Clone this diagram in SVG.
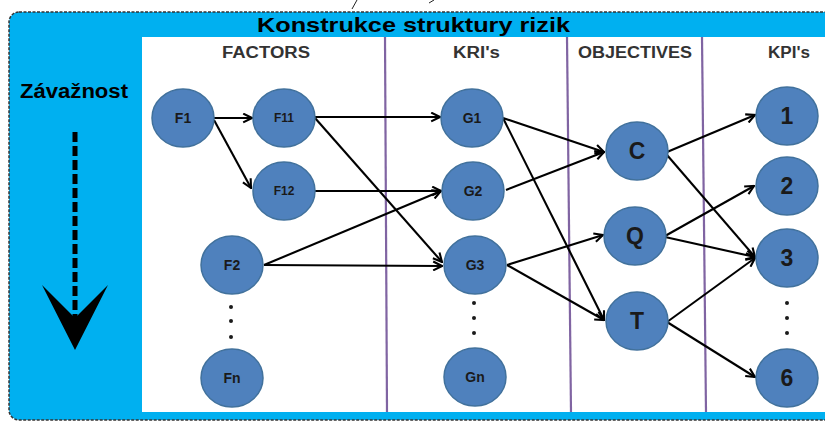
<svg xmlns="http://www.w3.org/2000/svg" width="825" height="422" viewBox="0 0 825 422">
  <defs>
    <marker id="arr" viewBox="0 0 10 10" refX="9" refY="5" markerWidth="11" markerHeight="11" markerUnits="userSpaceOnUse" orient="auto">
      <path d="M1,1 L9,5 L1,9" fill="none" stroke="#000" stroke-width="1.9"/>
    </marker>
    <style>
      .node ellipse { fill: #4F81BD; stroke: #41719C; stroke-width: 1.5; }
      .lbl { font-family: "Liberation Sans", Arial, sans-serif; font-weight: bold; fill: #1a1a1a; text-anchor: middle; }
      .sm { font-size: 14px; }
      .xs { font-size: 12px; }
      .lg { font-size: 23px; }
      .hdr { font-family: "Liberation Sans", Arial, sans-serif; font-weight: bold; font-size: 16px; fill: #333; }
      .sep { stroke: #8064A2; stroke-width: 2.2; }
      .edges line { stroke: #000; stroke-width: 2.1; marker-end: url(#arr); }
      .dot { fill: #1a1a1a; }
    </style>
  </defs>

  <rect width="825" height="422" fill="#ffffff"/>

  <!-- small strokes above the frame -->
  <line x1="352" y1="9" x2="357" y2="0" stroke="#222" stroke-width="1"/>
  <line x1="429" y1="3" x2="434" y2="0" stroke="#222" stroke-width="1"/>

  <!-- outer frame -->
  <rect x="9" y="12" width="840" height="408" rx="10" ry="10" fill="#00B0F0" stroke="#333" stroke-width="1.5" stroke-dasharray="3,1.5"/>

  <!-- title -->
  <text x="257" y="32" font-family="'Liberation Sans', Arial, sans-serif" font-weight="bold" font-size="21" fill="#000" textLength="313" lengthAdjust="spacingAndGlyphs">Konstrukce struktury rizik</text>

  <!-- white panel -->
  <rect x="142" y="37" width="690" height="375" fill="#ffffff"/>

  <!-- column separators -->
  <line class="sep" x1="385" y1="37" x2="387" y2="412"/>
  <line class="sep" x1="567" y1="37" x2="571" y2="412"/>
  <line class="sep" x1="702" y1="37" x2="706" y2="412"/>

  <!-- column headers -->
  <text class="hdr" x="222" y="58" textLength="88" lengthAdjust="spacingAndGlyphs">FACTORS</text>
  <text class="hdr" x="453" y="58" textLength="47" lengthAdjust="spacingAndGlyphs">KRI's</text>
  <text class="hdr" x="578" y="58" textLength="114" lengthAdjust="spacingAndGlyphs">OBJECTIVES</text>
  <text class="hdr" x="768" y="58" textLength="42" lengthAdjust="spacingAndGlyphs">KPI's</text>

  <!-- severity axis -->
  <text x="20" y="98" font-family="'Liberation Sans', Arial, sans-serif" font-weight="bold" font-size="20" fill="#000" textLength="108" lengthAdjust="spacingAndGlyphs">Závažnost</text>
  <line x1="75" y1="132" x2="75" y2="318" stroke="#000" stroke-width="5" stroke-dasharray="10,4"/>
  <polygon points="42,285 75,318 108,285 75,350" fill="#000"/>

  <!-- connectors -->
  <g class="edges">
    <line x1="214" y1="118" x2="252" y2="118"/>
    <line x1="214" y1="120" x2="251" y2="188"/>
    <line x1="315" y1="117" x2="440" y2="117"/>
    <line x1="315" y1="118" x2="442" y2="262"/>
    <line x1="315" y1="191" x2="441" y2="191"/>
    <line x1="264" y1="265" x2="441" y2="191"/>
    <line x1="264" y1="265" x2="442" y2="266"/>
    <line x1="503" y1="118" x2="604" y2="152"/>
    <line x1="503" y1="118" x2="604" y2="320"/>
    <line x1="506" y1="190" x2="604" y2="152"/>
    <line x1="507" y1="265" x2="603" y2="235"/>
    <line x1="507" y1="265" x2="604" y2="320"/>
    <line x1="667" y1="152" x2="755" y2="115"/>
    <line x1="667" y1="155" x2="755" y2="257"/>
    <line x1="665" y1="236" x2="754" y2="186"/>
    <line x1="665" y1="237" x2="755" y2="257"/>
    <line x1="667" y1="322" x2="755" y2="258"/>
    <line x1="667" y1="322" x2="755" y2="377"/>
  </g>

  <!-- factor nodes -->
  <g id="F1" class="node"><ellipse cx="183" cy="118" rx="31" ry="29"/><text class="lbl sm" x="183" y="123">F1</text></g>
  <g id="F11" class="node"><ellipse cx="284" cy="118" rx="31" ry="29"/><text class="lbl xs" x="284" y="122">F11</text></g>
  <g id="F12" class="node"><ellipse cx="284" cy="191" rx="31" ry="29"/><text class="lbl xs" x="284" y="195">F12</text></g>
  <g id="F2" class="node"><ellipse cx="232" cy="265" rx="31" ry="29"/><text class="lbl sm" x="232" y="270">F2</text></g>
  <g id="Fn" class="node"><ellipse cx="232" cy="378" rx="31" ry="29"/><text class="lbl sm" x="232" y="383">Fn</text></g>
  <g id="F-dots"><circle class="dot" cx="231" cy="307" r="2"/><circle class="dot" cx="231" cy="321" r="2"/><circle class="dot" cx="231" cy="337" r="2"/></g>

  <!-- KRI nodes -->
  <g id="G1" class="node"><ellipse cx="472" cy="118" rx="31" ry="29"/><text class="lbl sm" x="472" y="123">G1</text></g>
  <g id="G2" class="node"><ellipse cx="473" cy="191" rx="31" ry="29"/><text class="lbl sm" x="473" y="196">G2</text></g>
  <g id="G3" class="node"><ellipse cx="475" cy="265" rx="31" ry="29"/><text class="lbl sm" x="475" y="270">G3</text></g>
  <g id="Gn" class="node"><ellipse cx="475" cy="377" rx="31" ry="29"/><text class="lbl sm" x="475" y="382">Gn</text></g>
  <g id="G-dots"><circle class="dot" cx="474" cy="303" r="2"/><circle class="dot" cx="474" cy="318" r="2"/><circle class="dot" cx="474" cy="333" r="2"/></g>

  <!-- objective nodes -->
  <g id="C" class="node"><ellipse cx="637" cy="151" rx="31" ry="29"/><text class="lbl lg" x="637" y="159">C</text></g>
  <g id="Q" class="node"><ellipse cx="635" cy="236" rx="31" ry="29"/><text class="lbl lg" x="635" y="244">Q</text></g>
  <g id="T" class="node"><ellipse cx="637" cy="321" rx="31" ry="29"/><text class="lbl lg" x="637" y="329">T</text></g>

  <!-- KPI nodes -->
  <g id="K1" class="node"><ellipse cx="787" cy="116" rx="31" ry="29"/><text class="lbl lg" x="787" y="124">1</text></g>
  <g id="K2" class="node"><ellipse cx="787" cy="186" rx="31" ry="29"/><text class="lbl lg" x="787" y="194">2</text></g>
  <g id="K3" class="node"><ellipse cx="787" cy="258" rx="31" ry="29"/><text class="lbl lg" x="787" y="266">3</text></g>
  <g id="K6" class="node"><ellipse cx="787" cy="378" rx="31" ry="29"/><text class="lbl lg" x="787" y="386">6</text></g>
  <g id="K-dots"><circle class="dot" cx="787" cy="303" r="2"/><circle class="dot" cx="787" cy="318" r="2"/><circle class="dot" cx="787" cy="333" r="2"/></g>
</svg>
